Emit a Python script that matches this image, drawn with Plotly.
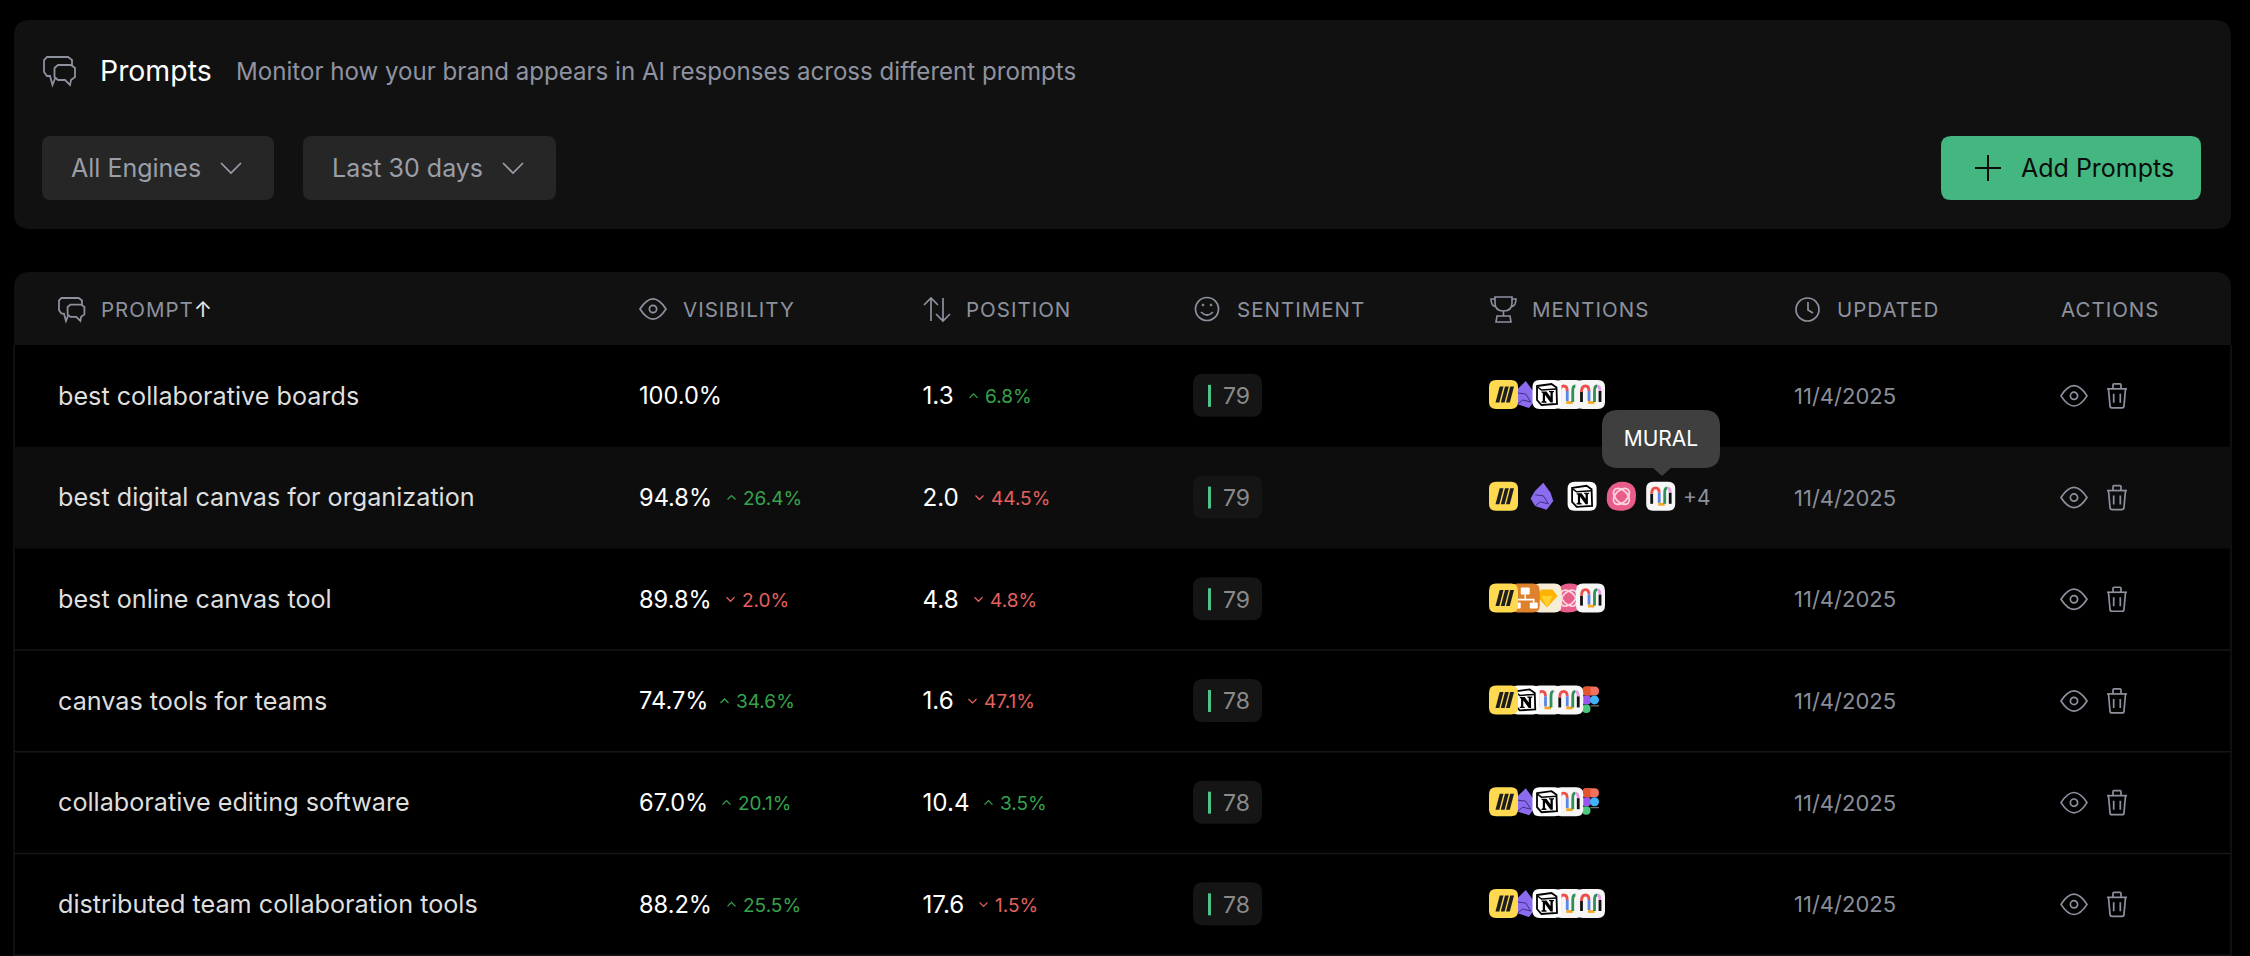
import math
import plotly.graph_objects as go

# table content
prompts = ["best collaborative boards", "best digital canvas for organization", "best online canvas tool",
           "canvas tools for teams", "collaborative editing software", "distributed team collaboration tools"]
visibility = [100.0, 94.8, 89.8, 74.7, 67.0, 88.2]
visibility_delta = [None, 26.4, -2.0, 34.6, 20.1, 25.5]
position = [1.3, 2.0, 4.8, 1.6, 10.4, 17.6]
position_delta = [6.8, -44.5, -4.8, -47.1, 3.5, -1.5]
sentiment = [79, 79, 79, 78, 78, 78]
updated = ["11/4/2025"] * 6
mentions = [
    ["miro", "obsidian", "notion", "mural", "mural"],
    ["miro", "obsidian", "notion", "pink", "mural"],
    ["miro", "orange", "sketch", "pink", "mural"],
    ["miro", "notion", "mural", "mural", "figma"],
    ["miro", "obsidian", "notion", "mural", "figma"],
    ["miro", "obsidian", "notion", "mural", "mural"],
]
headers = ['PROMPT<span style="font-size:22px;color:#e6e6e6">↑</span>', "VISIBILITY", "POSITION", "SENTIMENT", "MENTIONS", "UPDATED", "ACTIONS"]

# layout in page pixels
header_x = [101, 683, 966, 1237, 1532, 1837, 2061]
vis_delta_x = [0, 728, 727, 721, 723, 728]
pos_delta_x = [970, 976, 975, 969, 985, 980]
row_top = 345
row_h = 101.7
row_mid = [row_top + row_h * (i + 0.5) for i in range(6)]
icon_mid = [394.5 + 101.8 * i for i in range(6)]
text_dy = 2.5

GREEN = "#36a34c"
RED = "#e2605f"
GREY = "#8d919e"
CARD = "#111111"
LAYER = {"pink": 0, "figma": 1, "mural": 2, "sketch": 3, "orange": 4, "obsidian": 5, "notion": 6, "miro": 7}

shapes = []


def add_path(d, fill=None, line=None, width=1.6):
    s = dict(type="path", path=d, xref="x", yref="y", layer="below", line=dict(width=0))
    if fill:
        s["fillcolor"] = fill
    if line:
        s["line"] = dict(color=line, width=width)
    shapes.append(s)


def rrect(x0, y0, x1, y1, r):
    return (f"M{x0+r},{y0} L{x1-r},{y0} Q{x1},{y0} {x1},{y0+r} L{x1},{y1-r} Q{x1},{y1} {x1-r},{y1} "
            f"L{x0+r},{y1} Q{x0},{y1} {x0},{y1-r} L{x0},{y0+r} Q{x0},{y0} {x0+r},{y0} Z")


def ellipse(cx, cy, rx, ry, fill=None, line=None, width=1.6):
    s = dict(type="circle", xref="x", yref="y", layer="below", x0=cx - rx, x1=cx + rx, y0=cy - ry, y1=cy + ry,
             line=dict(width=0))
    if fill:
        s["fillcolor"] = fill
    if line:
        s["line"] = dict(color=line, width=width)
    shapes.append(s)


def rot_ellipse(cx, cy, a, b, deg):
    # four bezier segments, turned by deg
    k = 0.5523
    t = math.radians(deg)

    def p(u, v):
        return f"{cx+u*math.cos(t)-v*math.sin(t):.2f},{cy+u*math.sin(t)+v*math.cos(t):.2f}"
    return (f"M{p(a,0)} C{p(a,k*b)} {p(k*a,b)} {p(0,b)} C{p(-k*a,b)} {p(-a,k*b)} {p(-a,0)} "
            f"C{p(-a,-k*b)} {p(-k*a,-b)} {p(0,-b)} C{p(k*a,-b)} {p(a,-k*b)} {p(a,0)} Z")


def poly(pts, x=0, y=0, k=1, close=True):
    d = "M" + " L".join(f"{x+px*k},{y+py*k}" for px, py in pts)
    return d + (" Z" if close else "")


# ---- small ui icons
def chat_icon(x, y, k, bg):
    back = [(3, 0), (24, 0), (28, 3), (28, 15), (24, 19), (12, 19), (8.5, 28), (6, 19), (3, 19), (0, 15), (0, 3)]
    front = [(14, 8), (27, 8), (31, 11), (31, 20), (27, 23), (27, 23), (26, 28), (21, 23), (14, 23), (10.5, 20), (10.5, 11)]
    add_path(poly(back, x, y, k), line=GREY, width=1.8)
    add_path(poly(front, x, y, k), fill=bg, line=GREY, width=1.8)


def eye_icon(cx, cy, w, color=GREY):
    r = w / 2
    h = w * 0.78
    add_path(f"M{cx-r},{cy} Q{cx},{cy-h} {cx+r},{cy} Q{cx},{cy+h} {cx-r},{cy} Z", line=color, width=1.7)
    ellipse(cx, cy, w * 0.14, w * 0.14, line=color, width=1.7)


def trash_icon(cx, cy, color=GREY):
    add_path(f"M{cx-10},{cy-7} L{cx+10},{cy-7}", line=color, width=1.7)
    add_path(f"M{cx-4},{cy-7} L{cx-4},{cy-11} Q{cx-4},{cy-12} {cx-3},{cy-12} L{cx+3},{cy-12} Q{cx+4},{cy-12} {cx+4},{cy-11} L{cx+4},{cy-7}",
             line=color, width=1.7)
    add_path(f"M{cx-8.5},{cy-7} L{cx-7},{cy+10} Q{cx-7},{cy+12} {cx-5},{cy+12} L{cx+5},{cy+12} Q{cx+7},{cy+12} {cx+7},{cy+10} L{cx+8.5},{cy-7}",
             line=color, width=1.7)
    add_path(f"M{cx-3.3},{cy-2} L{cx-3.3},{cy+7} M{cx+3.3},{cy-2} L{cx+3.3},{cy+7}", line=color, width=1.7)


def chevron(cx, cy, up, color, w=4, h=4, width=1.3):
    d = -h if up else h
    add_path(f"M{cx-w},{cy-d/2} L{cx},{cy+d/2} L{cx+w},{cy-d/2}", line=color, width=width)


# ---- brand icons, drawn in a 28px box
def brand(name, x, y):
    if name == "miro":
        add_path(rrect(x, y, x + 29, y + 29, 7), fill="#ffd94f")
        for a, b in [(6.5, 10.5), (11.8, 15.8), (17, 21)]:
            add_path(poly([(a, 22.5), (a + 3.8, 22.5), (b + 4, 6.5), (b + .2, 6.5)], x, y), fill="#1e1e1e")
    elif name == "obsidian":
        add_path(poly([(15, 1), (22.3, 11), (25, 19.3), (18.3, 28), (6.7, 24.3), (2.3, 16.7), (6.7, 9.3)], x, y), fill="#8b6cef")
        add_path(poly([(7, 13), (15, 14), (20, 22), (12, 20), (7, 24)], x, y, close=False), line="#3e2f86", width=1)
    elif name == "notion":
        add_path(rrect(x, y, x + 29, y + 29, 7), fill="#ffffff")
        add_path(poly([(4.5, 6), (19, 4), (24, 7.5), (24.5, 24), (9, 25), (4.5, 20)], x, y), fill="#ffffff", line="#000000", width=1.8)
        add_path(poly([(5, 7), (9, 10), (24, 9)], x, y, close=False), line="#000000", width=1.5)
        add_path(poly([(9, 11.5), (14, 11.5), (18, 17), (18, 12.5), (16.5, 12), (16.5, 11), (21.5, 11), (21.5, 12), (20.3, 12.5),
                       (20.3, 22.5), (18, 22.5), (12.5, 15), (12.5, 21), (14, 21.5), (14, 22.7), (9, 22.7), (9, 21.5), (10.3, 21),
                       (10.3, 13), (9, 12.5)], x, y), fill="#000000")
    elif name == "mural":
        add_path(rrect(x, y, x + 29, y + 29, 7), fill="#f6f6f6")
        add_path(f"M{x+5.5},{y+22} L{x+5.5},{y+12}", line="#111111", width=2.8)
        add_path(f"M{x+5.5},{y+12} Q{x+5.5},{y+6} {x+9.5},{y+6} Q{x+13},{y+6} {x+13},{y+11}", line="#ee4f4a", width=2.8)
        add_path(f"M{x+13},{y+11} L{x+13},{y+21}", line="#5a86e8", width=2.8)
        add_path(f"M{x+12},{y+22.5} L{x+18.5},{y+22.5}", line="#f5a623", width=2.8)
        add_path(f"M{x+18.5},{y+22} L{x+18.5},{y+11} Q{x+18.5},{y+6} {x+21},{y+6}", line="#2f8f56", width=2.8)
        add_path(f"M{x+21},{y+6} Q{x+24},{y+6} {x+24},{y+11}", line="#e79ae8", width=2.8)
        add_path(f"M{x+24},{y+11} L{x+24},{y+22}", line="#111111", width=2.8)
    elif name == "pink":
        add_path(f"M{x+14},{y} C{x+24},{y-1} {x+30},{y+5} {x+29},{y+15} C{x+29},{y+25} {x+23},{y+29} {x+13},{y+29} "
                 f"C{x+4},{y+29} {x-1},{y+24} {x},{y+15} C{x},{y+7} {x+5},{y+1} {x+14},{y} Z", fill="#e85d8a")
        add_path(rot_ellipse(x + 14.5, y + 14.5, 9.5, 6, 45), line="#fbd4e0", width=1.8)
        add_path(rot_ellipse(x + 14.5, y + 14.5, 9.5, 6, -45), line="#fbd4e0", width=1.8)
    elif name == "orange":
        add_path(rrect(x, y, x + 29, y + 29, 7), fill="#de812d")
        add_path(rrect(x + 10, y + 4, x + 19, y + 11, 1), fill="#ffffff")
        add_path(f"M{x+14.5},{y+11} L{x+14.5},{y+17} M{x+6},{y+19} L{x+6},{y+16} L{x+23},{y+16} L{x+23},{y+19}", line="#ffffff", width=1.6)
        add_path(rrect(x + 2, y + 19, x + 10, y + 25, 1), fill="#ffffff")
        add_path(rrect(x + 19, y + 19, x + 27, y + 25, 1), fill="#ffffff")
    elif name == "sketch":
        add_path(rrect(x, y, x + 29, y + 29, 7), fill="#f5edd8")
        add_path(poly([(9, 6), (20, 6), (25, 12.5), (14.5, 24), (4, 12.5)], x, y), fill="#fdb300")
        add_path(poly([(9, 12.5), (20, 12.5), (14.5, 24)], x, y), fill="#fdd231")
    elif name == "figma":
        add_path(rrect(x + 6, y + 1, x + 23, y + 10, 4.5), fill="#f1705f")
        add_path(f"M{x+14.5},{y+1} L{x+10.5},{y+1} Q{x+6},{y+1} {x+6},{y+5.5} Q{x+6},{y+10} {x+10.5},{y+10} L{x+14.5},{y+10} Z", fill="#e2552e")
        add_path(rrect(x + 6, y + 10, x + 15, y + 19, 4), fill="#9a55ee")
        ellipse(x + 18.5, y + 14.5, 4.5, 4.5, fill="#3fb4f5")
        add_path(rrect(x + 6, y + 19, x + 14.5, y + 27.5, 4.2), fill="#4cc97f")
        add_path(f"M{x+14.5},{y+20.5} L{x+23},{y+20.5}", line="#8f8f8f", width=1)


# ---- cards
add_path(rrect(14, 20, 2231, 229, 16), fill=CARD)
add_path("M14,345 L14,288 Q14,272 30,272 L2215,272 Q2231,272 2231,288 L2231,345 Z", fill=CARD)
add_path("M14,345 L14,956 M2231,345 L2231,956", line="#141414", width=1.5)
add_path(f"M14,{row_top+row_h} L2231,{row_top+row_h} L2231,{row_top+2*row_h} L14,{row_top+2*row_h} Z", fill="#0d0d0d")
for i in range(3, 7):
    add_path(f"M14,{row_top+row_h*i} L2231,{row_top+row_h*i}", line="#161616", width=1.5)

# filters and button
add_path(rrect(42, 136, 274, 200, 9), fill="#262626")
add_path(rrect(303, 136, 556, 200, 9), fill="#262626")
add_path(rrect(1941, 136, 2201, 200, 10), fill="#43b77f")
add_path("M1988,155 L1988,181 M1975,168 L2001,168", line="#0c0c0c", width=2)
chevron(231, 168, False, "#9a9ea8", w=10, h=10, width=1.7)
chevron(513, 168, False, "#9a9ea8", w=10, h=10, width=1.7)

# top and header icons
chat_icon(44, 57, 1, CARD)
chat_icon(59, 298, 0.82, CARD)
eye_icon(653, 309, 26)
add_path("M931,321 L931,298 M924,305 L931,298 L938,305", line=GREY, width=1.7)
add_path("M943,298 L943,321 M936,314 L943,321 L950,314", line=GREY, width=1.7)
ellipse(1207, 309, 11.5, 11.5, line=GREY, width=1.7)
ellipse(1203, 305, 0.9, 0.9, fill=GREY, line=GREY, width=1)
ellipse(1211, 305, 0.9, 0.9, fill=GREY, line=GREY, width=1)
add_path("M1201,312 Q1207,318 1213,312", line=GREY, width=1.7)
add_path("M1495,297 L1512,297 L1512,303 Q1512,311 1503.5,311 Q1495,311 1495,303 Z M1495,299 L1491,299 Q1491,306 1496,307 M1512,299 L1516,299 Q1516,306 1511,307",
         line=GREY, width=1.6)
add_path("M1503.5,311 L1503.5,316 M1497,316 L1510,316 L1511,322 L1496,322 Z", line=GREY, width=1.6)
ellipse(1807.5, 309.5, 11.5, 11.5, line=GREY, width=1.7)
add_path("M1808,302 L1808,310 L1813,313", line=GREY, width=1.7)

# rows
for i in range(6):
    mid = row_mid[i]
    add_path(rrect(1193, mid - 22, 1262, mid + 21, 10), fill="#151515")
    add_path(f"M1208,{mid-11} L1211,{mid-11} L1211,{mid+11} L1208,{mid+11} Z", fill="#4cc38a")
    if visibility_delta[i] is not None:
        chevron(vis_delta_x[i] + 3.5, mid, visibility_delta[i] > 0, GREEN if visibility_delta[i] > 0 else RED)
    chevron(pos_delta_x[i] + 3.5, mid, position_delta[i] > 0, GREEN if position_delta[i] > 0 else RED)
    eye_icon(2074, mid, 26)
    trash_icon(2117, mid)
    step = 39.3 if i == 1 else 21.75
    names = list(enumerate(mentions[i]))
    for j, name in sorted(names, key=lambda t: LAYER[t[1]]):
        brand(name, 1489 + j * step, icon_mid[i] - 14.5)

# tooltip
add_path(rrect(1602, 410, 1720, 468, 16), fill="#3f3f3f")
add_path("M1652,467 L1662,476 L1672,467 Z", fill="#3f3f3f")

fig = go.Figure()


def add_text(xs, ys, texts, size, color, pos="middle right", family="Inter"):
    fig.add_trace(go.Scatter(x=xs, y=[v + text_dy for v in ys], text=texts, mode="text", textposition=pos, cliponaxis=False,
                             textfont=dict(family=family, size=size, color=color), hoverinfo="skip", showlegend=False))


add_text([100], [71], ["Prompts"], 28.4, "#ffffff")
add_text([236], [71], ["Monitor how your brand appears in AI responses across different prompts"], 24.1, "#8f93a0")
add_text([71, 332], [168, 168], ["All Engines", "Last 30 days"], 25, "#9a9ea8")
add_text([2021], [168], ["Add Prompts"], 25, "#0c0c0c")
add_text(header_x, [309] * 7, headers, 20.5, GREY)

add_text([58] * 6, row_mid, prompts, 25.2, "#dedede")
add_text([639] * 6, row_mid, [f"{v:.1f}%" for v in visibility], 23.6, "#ffffff")
add_text([x + 15 for x in vis_delta_x[1:]], row_mid[1:], [f"{abs(v):.1f}%" for v in visibility_delta[1:]], 19,
         [GREEN if v > 0 else RED for v in visibility_delta[1:]])
add_text([922.5] * 6, row_mid, [f"{v:.1f}" for v in position], 24.2, "#ffffff")
add_text([x + 15 for x in pos_delta_x], row_mid, [f"{abs(v):.1f}%" for v in position_delta], 19,
         [GREEN if v > 0 else RED for v in position_delta])
add_text([1223] * 6, row_mid, [str(v) for v in sentiment], 23, "#8a8a8a")
add_text([1794] * 6, row_mid, updated, 22, "#8a8e99")
add_text([1683], [row_mid[1]], ["+4"], 21, GREY)
add_text([1661], [438], ["MURAL"], 21, "#ffffff", pos="middle center")

fig.update_layout(width=2250, height=956, margin=dict(l=0, r=0, t=0, b=0), paper_bgcolor="#000000", plot_bgcolor="#000000",
                  shapes=shapes, showlegend=False,
                  xaxis=dict(range=[0, 2250], visible=False, fixedrange=True),
                  yaxis=dict(range=[956, 0], visible=False, fixedrange=True))

# page margin off, and the wider tracking of the table header
post_script = """
document.body.style.margin = '0';
document.body.style.background = '#000';
var spaced = ['PROMPT↑', 'VISIBILITY', 'POSITION', 'SENTIMENT', 'MENTIONS', 'UPDATED', 'ACTIONS'];
document.querySelectorAll('.textpoint text').forEach(function (t) {
    if (spaced.indexOf(t.textContent) >= 0) t.style.letterSpacing = '1px';
});
"""
fig.write_html("out.html", config={"displayModeBar": False}, post_script=post_script)
